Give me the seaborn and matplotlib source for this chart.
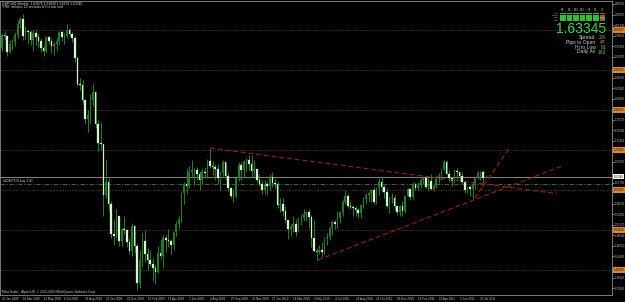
import numpy as np
import pandas as pd
import matplotlib
matplotlib.use("Agg")
import matplotlib.pyplot as plt
import matplotlib.transforms as mtransforms
from matplotlib.patches import Rectangle
import seaborn as sns

# ---------------- data (GBPUSD weekly, Jan 2008 - Aug 2011) ----------------
first_open = 1.9560
close = [
    1.9880, 1.9850, 1.9460, 1.9660, 1.9700, 1.9880, 2.0160, 2.0280, 1.9850, 1.9980,
    1.9940, 1.9760, 1.9930, 1.9820, 1.9730, 1.9540, 1.9480, 1.9820, 1.9730, 1.9590,
    1.9650, 1.9720, 1.9940, 1.9830, 1.9850, 1.9990, 1.9890, 1.9790, 1.9310, 1.8660,
    1.8630, 1.8260, 1.7780, 1.7870, 1.8240, 1.8450, 1.7660, 1.7170, 1.7150, 1.5880,
    1.6200, 1.5660, 1.4900, 1.4850, 1.5340, 1.4720, 1.5020, 1.5000, 1.4700, 1.4480,
    1.5110, 1.4590, 1.3680, 1.4260, 1.4730, 1.4390, 1.4240, 1.4150, 1.4050, 1.3940,
    1.4420, 1.4360, 1.4790, 1.4750, 1.4720, 1.4620, 1.4940, 1.5150, 1.5280, 1.5920,
    1.6160, 1.6090, 1.6450, 1.6500, 1.6510, 1.6400, 1.6250, 1.6460, 1.6420, 1.6720,
    1.6610, 1.6570, 1.6520, 1.6300, 1.6420, 1.6700, 1.6360, 1.6050, 1.5860, 1.5850,
    1.6300, 1.6630, 1.6500, 1.6730, 1.6740, 1.6660, 1.6480, 1.6520, 1.6260, 1.6140,
    1.6000, 1.6160, 1.6100, 1.6320, 1.6170, 1.6150, 1.5620, 1.5650, 1.5480, 1.5250,
    1.5030, 1.5080, 1.5150, 1.4950, 1.5290, 1.5300, 1.5400, 1.5440, 1.5330, 1.4790,
    1.4480, 1.4460, 1.4510, 1.4450, 1.4790, 1.4820, 1.5040, 1.5200, 1.5160, 1.5310,
    1.5450, 1.5700, 1.5840, 1.5600, 1.5580, 1.5550, 1.5510, 1.5430, 1.5620, 1.5770,
    1.5880, 1.5920, 1.6000, 1.5690, 1.6040, 1.6190, 1.6080, 1.5960, 1.5600, 1.5800,
    1.5790, 1.5590, 1.5460, 1.5600, 1.5470, 1.5860, 1.6020, 1.5820, 1.6140, 1.6040,
    1.6120, 1.6250, 1.6290, 1.6080, 1.6220, 1.6030, 1.6100, 1.6300, 1.6310, 1.6530,
    1.6700, 1.6410, 1.6290, 1.6220, 1.6480, 1.6450, 1.6350, 1.6210, 1.5990, 1.6070,
    1.6020, 1.6150, 1.6310, 1.6420, 1.6450, 1.62879, 1.63345,
]
high = [
    1.9930, 1.9970, 1.9880, 1.9740, 1.9770, 1.9960, 2.0240, 2.0320, 2.0400, 2.0100,
    2.0000, 1.9990, 2.0000, 2.0000, 1.9920, 1.9800, 1.9620, 1.9840, 1.9860, 1.9790,
    1.9690, 1.9790, 1.9970, 1.9980, 1.9920, 2.0160, 2.0040, 1.9960, 1.9840, 1.9330,
    1.8810, 1.8760, 1.8260, 1.7990, 1.8400, 1.8650, 1.8450, 1.7760, 1.7710, 1.7150,
    1.6770, 1.6300, 1.5730, 1.5260, 1.5520, 1.5340, 1.5050, 1.5360, 1.5020, 1.4790,
    1.5180, 1.5130, 1.4650, 1.4510, 1.4930, 1.5000, 1.4540, 1.4500, 1.4290, 1.4120,
    1.4600, 1.4780, 1.4870, 1.4870, 1.5020, 1.4780, 1.4960, 1.5220, 1.5360, 1.5940,
    1.6200, 1.6560, 1.6610, 1.6740, 1.6540, 1.6580, 1.6470, 1.6550, 1.6580, 1.6780,
    1.7040, 1.6730, 1.6660, 1.6650, 1.6470, 1.6740, 1.6710, 1.6420, 1.6080, 1.6020,
    1.6350, 1.6690, 1.6690, 1.6740, 1.6800, 1.6880, 1.6880, 1.6740, 1.6530, 1.6410,
    1.6250, 1.6240, 1.6200, 1.6390, 1.6460, 1.6310, 1.6190, 1.5790, 1.5800, 1.5610,
    1.5250, 1.5140, 1.5340, 1.5270, 1.5310, 1.5400, 1.5520, 1.5450, 1.5520, 1.5380,
    1.5250, 1.4540, 1.4620, 1.4700, 1.4800, 1.4930, 1.5080, 1.5260, 1.5240, 1.5470,
    1.5470, 1.5750, 1.5990, 1.5930, 1.5720, 1.5620, 1.5610, 1.5540, 1.5660, 1.5820,
    1.5920, 1.5950, 1.6030, 1.6080, 1.6060, 1.6300, 1.6290, 1.6120, 1.6040, 1.5840,
    1.5920, 1.5880, 1.5600, 1.5620, 1.5720, 1.5880, 1.6060, 1.6060, 1.6190, 1.6170,
    1.6190, 1.6280, 1.6350, 1.6300, 1.6300, 1.6390, 1.6140, 1.6370, 1.6420, 1.6560,
    1.6750, 1.6740, 1.6510, 1.6320, 1.6520, 1.6540, 1.6450, 1.6440, 1.6240, 1.6110,
    1.6130, 1.6230, 1.6320, 1.6480, 1.6480, 1.6490, 1.63690,
]
low = [
    1.9480, 1.9740, 1.9360, 1.9420, 1.9500, 1.9600, 1.9800, 2.0040, 1.9740, 1.9770,
    1.9640, 1.9630, 1.9480, 1.9630, 1.9580, 1.9460, 1.9340, 1.9450, 1.9660, 1.9430,
    1.9370, 1.9480, 1.9620, 1.9730, 1.9650, 1.9800, 1.9840, 1.9700, 1.9210, 1.8600,
    1.8500, 1.8150, 1.7650, 1.7450, 1.7650, 1.8110, 1.7560, 1.6970, 1.7000, 1.5360,
    1.5800, 1.5470, 1.4800, 1.4620, 1.4830, 1.4600, 1.4600, 1.4900, 1.4580, 1.4400,
    1.4360, 1.4420, 1.3500, 1.3550, 1.4070, 1.4190, 1.4000, 1.4100, 1.3720, 1.3660,
    1.3930, 1.4280, 1.4050, 1.4440, 1.4580, 1.4400, 1.4500, 1.4860, 1.5030, 1.5210,
    1.5640, 1.5900, 1.6040, 1.6300, 1.6130, 1.6260, 1.6000, 1.6150, 1.6330, 1.6300,
    1.6540, 1.6380, 1.6260, 1.6150, 1.6010, 1.6340, 1.6250, 1.5970, 1.5800, 1.5710,
    1.5800, 1.6220, 1.6260, 1.6290, 1.6440, 1.6500, 1.6290, 1.6350, 1.6200, 1.6110,
    1.5900, 1.5900, 1.5880, 1.6000, 1.6080, 1.6050, 1.5560, 1.5440, 1.5340, 1.5180,
    1.4780, 1.4850, 1.4960, 1.4860, 1.4950, 1.5130, 1.5220, 1.5230, 1.5060, 1.4580,
    1.4440, 1.4230, 1.4390, 1.4330, 1.4390, 1.4620, 1.4760, 1.4870, 1.5020, 1.5040,
    1.5170, 1.5360, 1.5650, 1.5550, 1.5520, 1.5340, 1.5340, 1.5300, 1.5290, 1.5550,
    1.5660, 1.5730, 1.5700, 1.5650, 1.5650, 1.5880, 1.5950, 1.5800, 1.5560, 1.5420,
    1.5680, 1.5510, 1.5370, 1.5350, 1.5360, 1.5420, 1.5850, 1.5740, 1.5780, 1.5990,
    1.5990, 1.6060, 1.6160, 1.6040, 1.5980, 1.6000, 1.5980, 1.6050, 1.6180, 1.6240,
    1.6480, 1.6390, 1.6210, 1.6110, 1.6170, 1.6280, 1.6250, 1.6150, 1.5930, 1.5920,
    1.5860, 1.5780, 1.6020, 1.6280, 1.6250, 1.6110, 1.62879,
]

date_tick_idx = [0, 8, 16, 24, 32, 40, 48, 56, 64, 72, 80, 88, 96, 104, 112, 120,
                 128, 136, 144, 152, 160, 168, 176, 184]
date_tick_labels = ["20 Jan 2008", "16 Mar 2008", "11 May 2008", "6 Jul 2008",
                    "31 Aug 2008", "26 Oct 2008", "21 Dec 2008", "15 Feb 2009",
                    "12 Apr 2009", "7 Jun 2009", "2 Aug 2009", "27 Sep 2009",
                    "22 Nov 2009", "17 Jan 2010", "14 Mar 2010", "9 May 2010",
                    "4 Jul 2010", "29 Aug 2010", "24 Oct 2010", "19 Dec 2010",
                    "13 Feb 2011", "10 Apr 2011", "5 Jun 2011", "31 Jul 2011"]

price_ticks = [2.0650, 2.0387, 2.0124, 1.9861, 1.9598, 1.9335, 1.9072, 1.8809,
               1.8546, 1.8283, 1.8020, 1.7757, 1.7494, 1.7231, 1.6968, 1.6705,
               1.6442, 1.6179, 1.5916, 1.5653, 1.5390, 1.5127, 1.4864, 1.4601,
               1.4338, 1.4075, 1.3812, 1.3549]

level_prices = [2.00, 1.90, 1.80, 1.70, 1.60, 1.50, 1.40]
bid_price = 1.63345
order_price = 1.6155
order_label = "#40487576 buy 1.00"

# trendlines: (week index, price) endpoints
trend_x = [[80.0, 213.5], [121.5, 215.4], [181.9, 195.4]]
trend_y = [[1.7050, 1.5908], [1.4250, 1.6600], [1.5800, 1.7075]]

header_1 = "GBPUSD,Weekly  1.62879 1.63690 1.62879 1.63345"
header_2 = "TTM: minutes 12 seconds left to bar end"
copyright_txt = "MetaTrader - Alpari UK, \u00a9 2001-2010 MetaQuotes Software Corp."

panel_cols = ["M1", "M5", "M15", "M30", "H1", "H4", "D1"]
panel_rows = ["MA", "MACD", "STR", "EMA"]
panel_state = [[1, 1, 1, 1, 1, 1, 0],
               [1, 1, 1, 1, 1, 1, 0],
               [1, 1, 1, 1, 1, 1, 1],
               [1, 1, 1, 1, 1, 1, 0]]
info_labels = ["Spread", "Pips to Open", "Hi to Low", "Daily Av"]
info_values = ["2.6", "47", "81", "163"]
info_colors = ["#e79a3c", "#8fd13a", "#d9b23a", "#3fd23f"]

# ---------------- styling ----------------
sns.set_theme(style="dark", rc={
    "axes.facecolor": "black", "figure.facecolor": "black",
    "axes.edgecolor": "#8c8c8c", "text.color": "#d0d0d0",
    "xtick.color": "#b8b8b8", "ytick.color": "#b8b8b8",
    "axes.grid": False,
})
plt.rcParams["font.family"] = ["Liberation Sans", "DejaVu Sans"]

bull_col = "#1f7d1f"
bear_col = "#e2f6dc"
wick_col = "#22822a"
tiny = 2.2

df = pd.DataFrame({"close": close, "high": high, "low": low})
df["open"] = [first_open] + close[:-1]
df["idx"] = np.arange(len(df))
up = df["close"] >= df["open"]

fig = plt.figure(figsize=(6.25, 3.02), dpi=100, facecolor="black")
ax = fig.add_axes([0.0, 7.5 / 302, 612 / 625, 293.5 / 302])
ax.set_facecolor("black")

# horizontal level lines
for lv in level_prices:
    ax.axhline(lv, color="#6e2f1e", lw=0.7, ls=(0, (1, 1.3)), zorder=1)
ax.axhline(bid_price, color="#9a9a9a", lw=0.6, zorder=1)
ax.axhline(order_price, color="#2a6a4c", lw=0.8, ls=(0, (4, 1.5, 1, 1.5)), zorder=1)

# candles
ax.vlines(df["idx"], df["low"], df["high"], color=wick_col, lw=0.7, zorder=2)
ax.bar(df["idx"][up], (df["close"] - df["open"])[up], bottom=df["open"][up],
       width=0.62, color=bull_col, edgecolor="none", zorder=3)
ax.bar(df["idx"][~up], (df["open"] - df["close"])[~up], bottom=df["close"][~up],
       width=0.62, color=bear_col, edgecolor="#a8e4a4", lw=0.2, zorder=3)

# trendlines
for tx, ty in zip(trend_x, trend_y):
    sns.lineplot(x=tx, y=ty, ax=ax, color="#861e1e", lw=0.9, sort=False,
                 linestyle=(0, (4, 2.2)), zorder=4)

yl_lo, yl_hi = 1.33875, 2.0725
ax.set_xlim(-0.77, 234.6)
ax.set_ylim(yl_lo, yl_hi)

# axes / ticks
for s in ax.spines.values():
    s.set_color("#8c8c8c")
    s.set_linewidth(0.6)
ax.set_xticks(date_tick_idx)
ax.set_xticklabels(date_tick_labels, ha="left")
ax.tick_params(axis="x", length=1.4, width=0.5, pad=0.2, labelsize=tiny,
               colors="#c8c8c8", direction="out")
ax.yaxis.tick_right()
# keep only scale labels that do not collide with the coloured level labels
px_per_price = 293.5 / (yl_hi - yl_lo)
shown_ticks = [p for p in price_ticks
               if min(abs(p - q) for q in level_prices + [bid_price]) * px_per_price > 4.5]
ax.set_yticks(shown_ticks)
ax.set_yticklabels([f"{p:.5f}" for p in shown_ticks])
ax.tick_params(axis="y", length=1.2, width=0.5, pad=0.6, labelsize=2.0,
               colors="#c8c8c8", direction="out")
ax.set_xlabel("")
ax.set_ylabel("")

blend = mtransforms.blended_transform_factory(ax.transAxes, ax.transData)
for lv in level_prices:
    ax.text(1.0025, lv, f"{lv:.5f}", transform=blend, fontsize=2.0, color="black",
            ha="left", va="center", clip_on=False, zorder=10,
            bbox=dict(boxstyle="square,pad=0.3", fc="#e0892b", ec="none"))
ax.text(1.0025, bid_price, f"{bid_price:.5f}", transform=blend, fontsize=2.0,
        color="black", ha="left", va="center", clip_on=False, zorder=10,
        bbox=dict(boxstyle="square,pad=0.3", fc="white", ec="none"))
ax.text(0.005, order_price + 0.0012, order_label, transform=blend, fontsize=2.3,
        color="#d0d0d0", ha="left", va="bottom", zorder=6)

# ---------------- overlay (pixel coordinates) ----------------
ov = fig.add_axes([0, 0, 1, 1])
ov.set_xlim(0, 625)
ov.set_ylim(302, 0)
ov.axis("off")
ov.patch.set_alpha(0)

ov.text(2.5, 3.5, header_1, fontsize=2.4, color="#d8d8d8", va="center", ha="left")
ov.text(2.5, 7.2, header_2, fontsize=2.4, color="#d8d8d8", va="center", ha="left")
ov.text(2, 291.8, copyright_txt, fontsize=2.35, color="#d0d0d0", va="center", ha="left")

# signal panel
col_w = 6.6
x0 = 560.0
for j, cname in enumerate(panel_cols):
    ov.text(x0 + j * col_w + 2.8, 10, cname, fontsize=1.8, color="#bdbdbd",
            ha="center", va="center")
for i, rname in enumerate(panel_rows):
    yy = 12.5 + i * 2.3
    ov.text(558.5, yy + 0.9, rname, fontsize=1.7, color="#bdbdbd",
            ha="right", va="center")
    for j in range(len(panel_cols)):
        c = "#2fbf2f" if panel_state[i][j] else "#d23a3a"
        ov.add_patch(Rectangle((x0 + j * col_w, yy), 5.6, 1.7, fc=c, ec="none"))

ov.text(606.5, 32.8, f"{bid_price:.5f}", fontsize=10, color="#33dd33",
        ha="right", va="baseline")
for k, (lab, val, vc) in enumerate(zip(info_labels, info_values, info_colors)):
    yy = 37.6 + k * 4.8
    ov.text(595.5, yy, lab, fontsize=3.6, color="#cfcfcf", ha="right", va="center")
    ov.text(606, yy, val, fontsize=3.6, color=vc, ha="right", va="center")

fig.savefig("out.png", dpi=100, facecolor="black")
